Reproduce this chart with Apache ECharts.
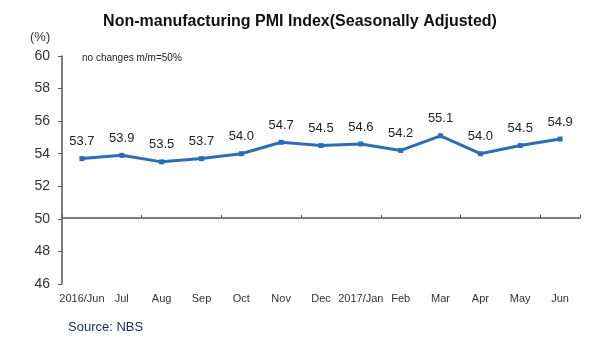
<!DOCTYPE html>
<html><head><meta charset="utf-8">
<script src="https://cdn.jsdelivr.net/npm/echarts@6/dist/echarts.min.js"></script>
<style>html,body{margin:0;padding:0;background:#fff}#c{width:600px;height:364px}</style>
</head><body><div id="c"></div>
<script>
const categories = ['2016/Jun','Jul','Aug','Sep','Oct','Nov','Dec','2017/Jan','Feb','Mar','Apr','May','Jun'];
const pmiValues = [53.7, 53.9, 53.5, 53.7, 54.0, 54.7, 54.5, 54.6, 54.2, 55.1, 54.0, 54.5, 54.9];
const yTicks = [46, 48, 50, 52, 54, 56, 58, 60];

const chart = echarts.init(document.getElementById('c'), null, {renderer: 'canvas'});
const font = '"Liberation Sans", Arial, sans-serif';
chart.setOption({
  animation: false,
  backgroundColor: '#fff',
  title: [
    {text: 'Non-manufacturing PMI Index(Seasonally Adjusted)', left: 'center', top: 9,
     textStyle: {fontFamily: font, fontSize: 16, fontWeight: 'bold', color: '#111'}},
    {text: '(%)', left: 25, top: 26, textStyle: {fontFamily: font, fontSize: 13, fontWeight: 'normal', color: '#333'}},
    {text: 'no changes m/m=50%', left: 77, top: 48, textStyle: {fontFamily: font, fontSize: 10, fontWeight: 'normal', color: '#222'}},
    {text: 'Source: NBS', left: 63, top: 316, textStyle: {fontFamily: font, fontSize: 13, fontWeight: 'normal', color: '#1f2d4d'}}
  ],
  grid: {left: 62, right: 20, top: 56, bottom: 80},
  xAxis: [
    {type: 'category', data: categories, boundaryGap: true, position: 'bottom',
     axisLine: {show: false}, axisTick: {show: false},
     axisLabel: {fontFamily: font, fontSize: 11, color: '#333', margin: 9, interval: 0}},
    {type: 'category', data: categories, boundaryGap: true, position: 'bottom', offset: -66,
     axisLine: {show: true, lineStyle: {color: '#555', width: 1.5}},
     axisTick: {show: true, inside: true, length: 3, lineStyle: {color: '#555'}},
     axisLabel: {show: false}}
  ],
  yAxis: {type: 'value', min: 46, max: 60, interval: 2,
    axisLine: {show: true, lineStyle: {color: '#555', width: 1.5}},
    axisTick: {show: true, length: 4, lineStyle: {color: '#555'}},
    splitLine: {show: false},
    axisLabel: {fontFamily: font, fontSize: 14, color: '#333', margin: 12,
      formatter: v => yTicks.includes(v) ? String(v) : ''}},
  series: [{
    type: 'line', data: pmiValues, xAxisIndex: 0,
    symbol: 'rect', symbolSize: 5,
    lineStyle: {color: '#2e6db4', width: 3},
    itemStyle: {color: '#2e6db4'},
    label: {show: true, position: 'top', distance: 8, fontFamily: font, fontSize: 13, color: '#222',
      formatter: p => p.value.toFixed(1)}
  }]
});
</script></body></html>
